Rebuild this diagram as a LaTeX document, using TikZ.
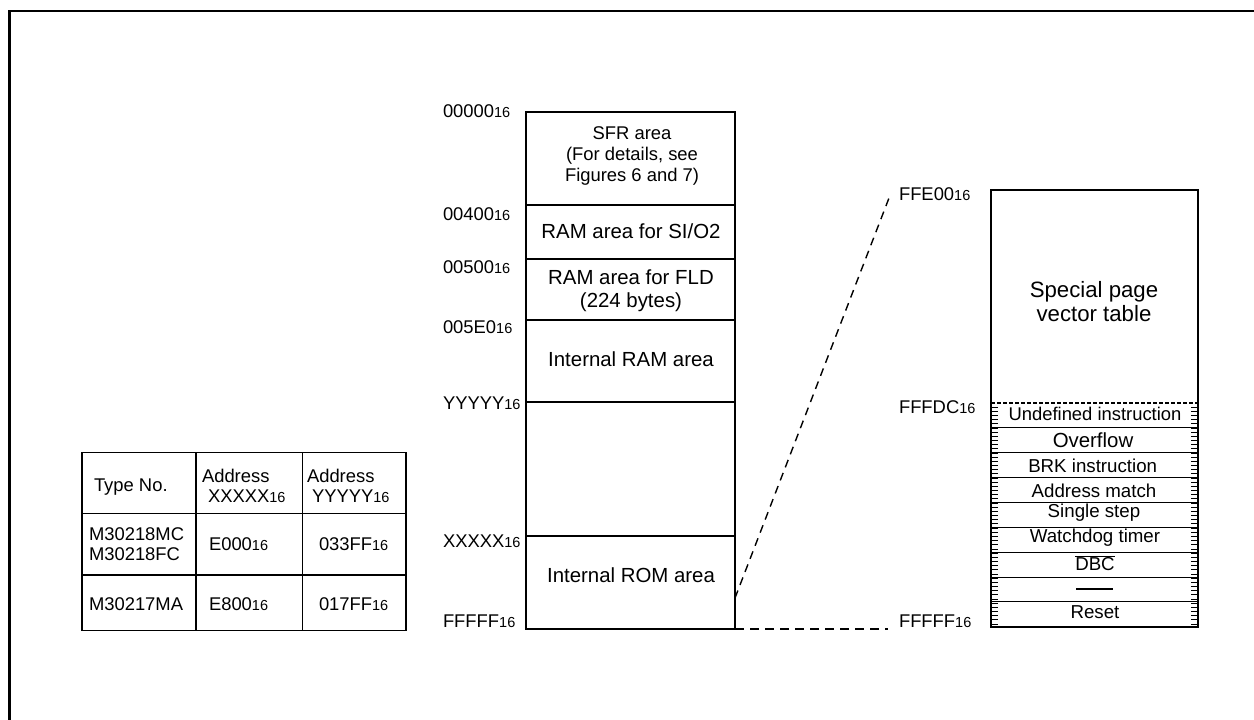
\documentclass[tikz,border=0pt]{standalone}
\usepackage{fontspec}
\setmainfont{Liberation Sans}
\newcommand{\sixt}{{\fontsize{14.5}{14.5}\selectfont 16}}
\newcommand{\fa}{\fontsize{18.4}{21}\selectfont}
\newcommand{\fb}{\fontsize{20.4}{23}\selectfont}
\newcommand{\fc}{\fontsize{18.7}{21}\selectfont}
\begin{document}
\begin{tikzpicture}[x=1pt,y=-1pt,
  every node/.style={inner sep=0pt,outer sep=0pt},
  cell/.style={draw=black,line width=1.5pt,anchor=north west,minimum width=209pt},
  celltext/.style={align=center,font=\fb,anchor=center},
  vcell/.style={align=center,font=\fc,anchor=center},
  lab/.style={font=\fa,anchor=base west},
  tcell/.style={font=\fa,align=left,anchor=base west},
  rule/.style={line width=1.5pt,line cap=butt},
  link/.style={line width=1.4pt,dash pattern=on 8pt off 6pt},
  linkh/.style={line width=1.4pt,dash pattern=on 9pt off 6pt}]
\useasboundingbox (0,0) rectangle (1254,720);
\draw[line width=2.6pt] (9.5,720) -- (9.5,11) -- (1254,11);
% main map
\node[cell,minimum height=93pt] (sfr) at (526,112) {};
\node[align=center,font=\fa,anchor=center] (sfrt) at (632,155.5) {SFR area\\(For details, see\\Figures 6 and 7)};
\node[cell,minimum height=54pt] (sio) at (526,205) {};
\node[celltext] (siot) at (631,231) {RAM area for SI/O2};
\node[cell,minimum height=61pt] (fld) at (526,259) {};
\node[celltext] (fldt) at (631,291) {RAM area for FLD\\(224 bytes)};
\node[cell,minimum height=82pt] (ram) at (526,320) {};
\node[celltext] (ramt) at (631,359) {Internal RAM area};
\node[cell,minimum height=134pt] (gap) at (526,402) {};
\node[cell,minimum height=93pt] (rom) at (526,536) {};
\node[celltext] (romt) at (631,575) {Internal ROM area};
% address labels
\node[lab] (a0) at (443,117) {00000\sixt};
\node[lab] (a1) at (443,220) {00400\sixt};
\node[lab] (a2) at (443,273) {00500\sixt};
\node[lab] (a3) at (443,333) {005E0\sixt};
\node[lab] (a4) at (443,409) {YYYYY\sixt};
\node[lab] (a5) at (443,547) {XXXXX\sixt};
\node[lab] (a6) at (443,627) {FFFFF\sixt};
\node[lab] (b0) at (899,200) {FFE00\sixt};
\node[lab] (b1) at (899,413) {FFFDC\sixt};
\node[lab] (b2) at (899,627) {FFFFF\sixt};
% vector table
\node[draw=black,line width=1.5pt,minimum width=207pt,minimum height=437pt,anchor=north west] (vt) at (991,190) {};
\node[align=center,anchor=center,font=\fontsize{22.2}{24}\selectfont] (spt) at (1094,302) {Special page\\vector table};
\draw[line width=1.3pt,dash pattern=on 3.5pt off 2.5pt] (vt.west |- 0,403) -- (vt.east |- 0,403);
\foreach \y in {427.7,452.7,477.5,502.3,527.7,552.7,577.3,601.7}
  \draw[rule] (vt.west |- 0,\y) -- (vt.east |- 0,\y);
\foreach \k in {1,...,53}{
  \pgfmathsetmacro{\yy}{403+\k*4.17}
  \draw[line width=0.9pt] (991,\yy) -- (998,\yy);
  \draw[line width=0.9pt] (1191,\yy) -- (1198,\yy);
}
\node[vcell,font=\fa] (v1) at (1095,413.5) {Undefined instruction};
\node[vcell,font=\fb] (v2) at (1093,440) {Overflow};
\node[vcell] (v3) at (1092.7,466) {BRK instruction};
\node[vcell] (v4) at (1094,490.5) {Address match};
\node[vcell] (v5) at (1094,513) {Single step};
\node[vcell] (v6) at (1095,537.5) {Watchdog timer};
\node[vcell] (v7) at (1095,564.5) {DBC};
\draw[line width=1.2pt] (v7.north west) ++(0,-1.5) coordinate (o1) -- (v7.north east |- o1);
\node[minimum width=37pt,minimum height=1.3pt,fill=black,anchor=center] (v8) at (1094.5,589) {};
\node[vcell] (v9) at (1095,612) {Reset};
% dashed links
\coordinate (r1) at (735,598);
\coordinate (e1) at (889,198);
\coordinate (e2) at (888,629);
\draw[link] (r1) -- (e1);
\draw[linkh] (rom.south east) -- (e2);
% table
\node[draw=black,line width=1.4pt,minimum width=324pt,minimum height=178pt,anchor=north west] (tb) at (82,452.5) {};
\draw[rule] (196,452.5) coordinate (c1) -- (196,630.5);
\draw[rule] (302.7,452.5) coordinate (c2) -- (302.7,630.5);
\draw[rule] (tb.west |- 0,513.5) -- (tb.east |- 0,513.5);
\draw[rule] (tb.west |- 0,575) -- (tb.east |- 0,575);
\node[tcell] (t1) at (94,491) {Type No.};
\node[tcell] (t2) at (202,482) {Address};
\node[tcell] (t3) at (208,502) {XXXXX\sixt};
\node[tcell] (t4) at (307,482) {Address};
\node[tcell] (t5) at (312,502) {YYYYY\sixt};
\node[tcell] (t6) at (89,540) {M30218MC};
\node[tcell] (t7) at (89,560) {M30218FC};
\node[tcell] (t8) at (209,550) {E000\sixt};
\node[tcell] (t9) at (319,550) {033FF\sixt};
\node[tcell] (t10) at (89,610) {M30217MA};
\node[tcell] (t11) at (209,610) {E800\sixt};
\node[tcell] (t12) at (319,610) {017FF\sixt};
\end{tikzpicture}
\end{document}
